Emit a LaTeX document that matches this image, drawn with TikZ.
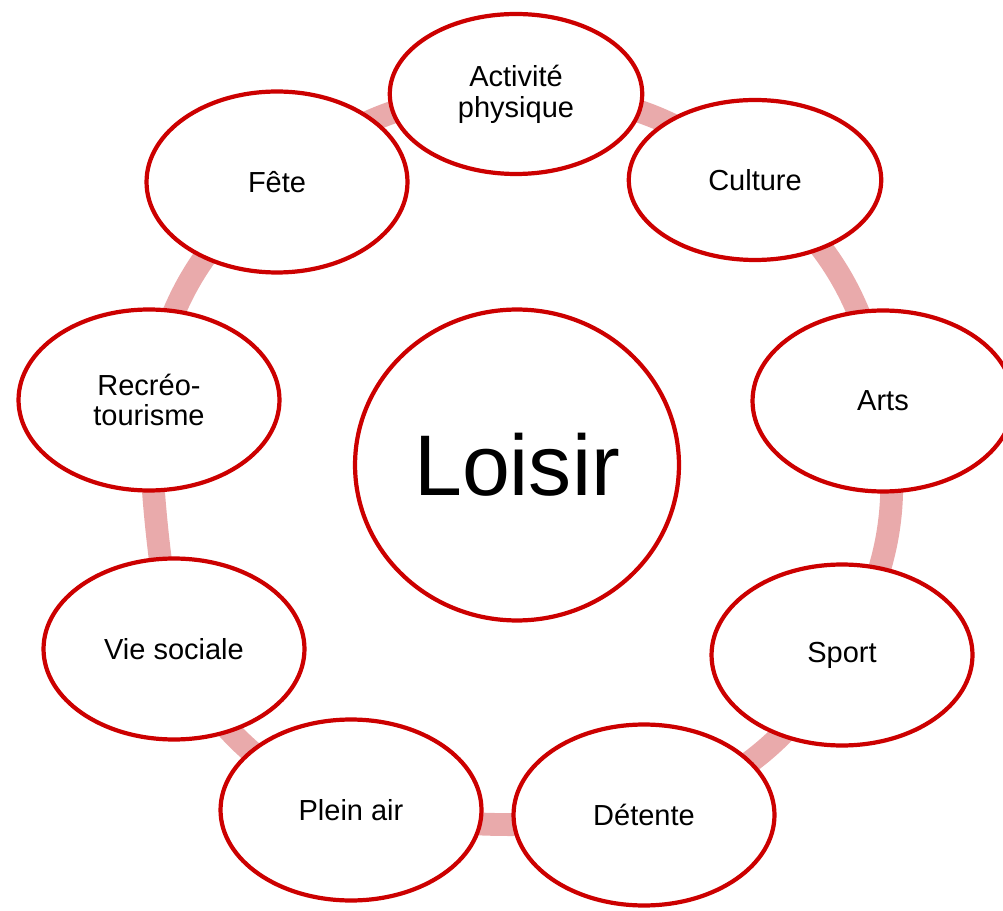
\documentclass[tikz,border=0pt]{standalone}
\usepackage{fontspec}
\setmainfont{Liberation Sans}
\usepackage{tikz}
\usetikzlibrary{shapes.geometric,backgrounds}
\definecolor{loisirred}{RGB}{204,0,0}
\definecolor{loisirpink}{RGB}{233,170,171}
\tikzset{
    mynode/.style={ellipse,draw=loisirred,fill=white,line width=2.4pt,inner sep=0pt,minimum width=5.22cm,minimum height=3.62cm,align=center,font=\fontsize{16.5}{17.5}\selectfont},
    mytopnode/.style={mynode,minimum width=5.05cm,minimum height=3.2cm},
    mycentre/.style={mynode,minimum width=6.48cm,minimum height=6.22cm,font=\fontsize{49}{56}\selectfont},
    mylink/.style={loisirpink,line width=13pt,bend left=20}
}
\begin{document}
\begin{tikzpicture}[x=0.02cm,y=-0.02cm]
    \useasboundingbox (0,0) rectangle (1003,911);
    \draw (517,465) node[mycentre] (loisir) {Loisir};
    \draw (516,94) node[mytopnode] (activite) {Activité\\physique};
    \draw (755,180) node[mytopnode] (culture) {Culture};
    \draw (883,401) node[mynode] (arts) {Arts};
    \draw (842,655) node[mynode] (sport) {Sport};
    \draw (644,815) node[mynode] (detente) {Détente};
    \draw (351,810) node[mynode] (pleinair) {Plein air};
    \draw (174,649) node[mynode] (viesociale) {Vie sociale};
    \draw (149,400) node[mynode] (recreo) {Recréo-\\tourisme};
    \draw (277,182) node[mynode] (fete) {Fête};
    \begin{pgfonlayer}{background}
    \draw[mylink] (activite.center) to (culture.center);
    \draw[mylink] (culture.center) to (arts.center);
    \draw[mylink] (arts.center) to (sport.center);
    \draw[mylink] (sport.center) to (detente.center);
    \draw[mylink,bend left=8] (detente.center) to (pleinair.center);
    \draw[mylink] (pleinair.center) to (viesociale.center);
    \draw[mylink,bend left=4] (viesociale.center) to (recreo.center);
    \draw[mylink] (recreo.center) to (fete.center);
    \draw[mylink] (fete.center) to (activite.center);
    \end{pgfonlayer}
  \end{tikzpicture}
\end{document}
